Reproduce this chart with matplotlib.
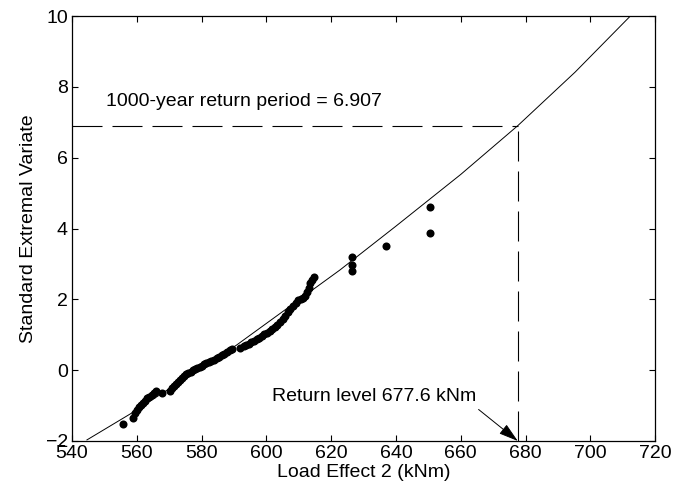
import matplotlib
matplotlib.use("Agg")
import matplotlib.pyplot as plt
import numpy as np

plt.rcParams["font.family"] = ["Liberation Sans", "DejaVu Sans"]

# observed maxima (load effect, standard extremal variate)
obs_x = [555.8, 558.7, 559.5, 560.2, 560.8, 561.3, 562.0, 562.6, 563.2, 563.9,
         564.6, 565.3, 565.8, 567.7, 570.3, 571.0, 571.6, 572.2, 572.8, 573.4,
         574.0, 574.6, 575.2, 575.9, 576.6, 577.3, 578.0, 578.7, 579.4, 580.1,
         580.8, 581.5, 582.2, 583.0, 583.8, 584.6, 585.4, 586.2, 587.0, 587.8,
         588.7, 589.5, 592.0, 593.0, 593.8, 594.6, 595.4, 596.2, 597.0, 597.8,
         598.6, 599.4, 600.2, 601.0, 601.8, 602.6, 603.4, 604.2, 605.0, 605.8,
         606.6, 607.4, 608.2, 609.0, 609.8, 610.6, 611.3, 612.0, 612.6, 613.0,
         613.5, 614.0, 614.6, 626.5, 626.5, 626.5, 637.0, 650.5, 650.5]
obs_y = [-1.52, -1.35, -1.22, -1.12, -1.05, -0.98, -0.92, -0.86, -0.80, -0.75,
         -0.70, -0.65, -0.60, -0.64, -0.58, -0.50, -0.44, -0.38, -0.32, -0.27,
         -0.22, -0.17, -0.12, -0.08, -0.04, 0.00, 0.03, 0.06, 0.10, 0.13,
         0.17, 0.20, 0.22, 0.26, 0.30, 0.33, 0.37, 0.42, 0.47, 0.52,
         0.56, 0.60, 0.64, 0.67, 0.71, 0.75, 0.79, 0.83, 0.87, 0.91,
         0.96, 1.01, 1.06, 1.11, 1.16, 1.22, 1.29, 1.36, 1.44, 1.53,
         1.63, 1.73, 1.82, 1.90, 1.97, 2.02, 2.05, 2.10, 2.20, 2.32,
         2.45, 2.55, 2.64, 2.80, 2.97, 3.20, 3.50, 3.88, 4.62]

# fitted distribution curve
fit_x = [544.6, 557.9, 575.0, 590.8, 606.0, 622.7, 640.0, 660.0, 677.6, 695.3, 712.3]
fit_y = [-1.97, -1.24, -0.23, 0.71, 1.72, 2.83, 4.07, 5.53, 6.907, 8.42, 10.0]

return_level = 677.6
return_variate = 6.907

fig = plt.figure(figsize=(6.86, 4.98), dpi=100)
ax = fig.add_axes([0.105, 0.1145, 0.850, 0.853])

ax.plot(fit_x, fit_y, color="black", linewidth=0.7)
ax.plot(obs_x, obs_y, "o", color="black", markersize=5.8, markeredgewidth=0)

dash = (0, (27, 9))
ax.plot([540, return_level], [return_variate, return_variate],
        color="black", linewidth=0.8, linestyle=dash)
ax.plot([return_level, return_level], [-2, return_variate],
        color="black", linewidth=0.8, linestyle=dash)

ax.text(550.5, 7.6, f"1000-year return period = {return_variate:.3f}",
        fontsize=14, va="center", ha="left")
ax.text(601.7, -0.73, f"Return level {return_level:.1f} kNm",
        fontsize=14, va="center", ha="left")
ax.annotate("", xy=(return_level, -2), xytext=(665.5, -1.11),
            arrowprops=dict(arrowstyle="-|>,head_length=1.0,head_width=0.3",
                            color="black", lw=0.7, mutation_scale=12,
                            shrinkA=0, shrinkB=0))

ax.set_xlim(540, 720)
ax.set_ylim(-2, 10)
ax.set_xticks(np.arange(540, 721, 20))
ax.set_yticks(np.arange(-2, 11, 2))
ax.tick_params(direction="in", top=True, right=True, length=4, width=0.8,
               labelsize=14, pad=3)
for s in ax.spines.values():
    s.set_linewidth(0.9)

ax.set_xlabel("Load Effect 2 (kNm)", fontsize=14, labelpad=1)
ax.set_ylabel("Standard Extremal Variate", fontsize=14, labelpad=6)

fig.savefig("out.png", dpi=100)
